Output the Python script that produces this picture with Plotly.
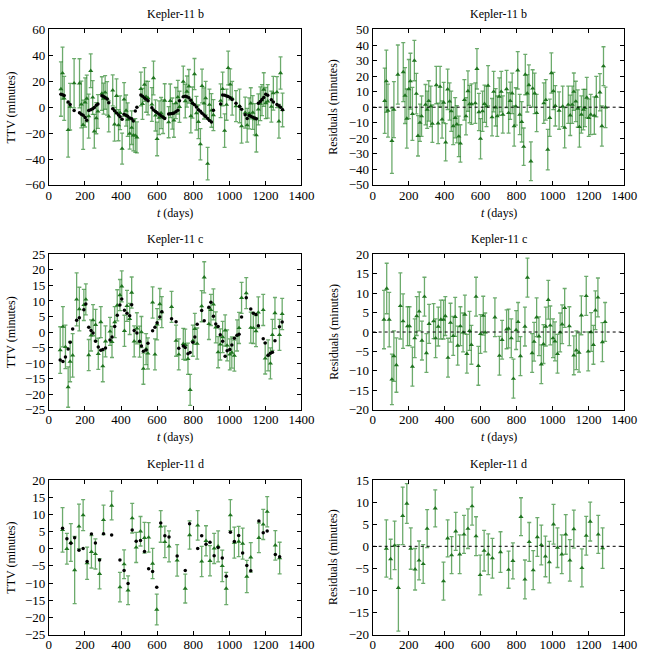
import plotly.graph_objects as go

# ---------------- Kepler-11 b ----------------
t_b = [67, 76, 85, 107, 118, 140, 170, 180, 190, 201,
       210, 221, 232, 243, 252, 263, 272, 294, 303, 312,
       323, 332, 354, 364, 375, 386, 395, 406, 417, 428,
       437, 448, 459, 468, 479, 488, 510, 519, 530, 539,
       550, 571, 580, 591, 600, 611, 622, 633, 642, 664,
       673, 684, 693, 704, 715, 724, 745, 756, 765, 776,
       787, 796, 807, 818, 829, 840, 849, 860, 869, 880,
       890, 901, 912, 952, 963, 974, 985, 994, 1005, 1016,
       1037, 1057, 1068, 1088, 1099, 1110, 1119, 1130, 1141, 1150,
       1161, 1172, 1181, 1191, 1202, 1213, 1233, 1244, 1264, 1275,
       1284, 1295]
ttv_b = [14.0, 26.3, 6.8, -17.6, 0.4, 18.5, 18.4, 2.1, -13.6, 3.7,
         6.7, -6.9, 28.1, 7.5, -18.6, -8.5, -3.3, 10.5, 6.6, 11.4,
         6.8, -7.1, 13.0, -13.2, 8.8, -13.9, -4.3, -32.0, 6.0, -2.6,
         -9.6, -20.4, -15.8, -21.7, -21.8, -23.3, 14.1, 2.6, 17.5, 8.1,
         7.0, 2.1, 22.5, -6.4, -24.5, -8.1, -4.5, -7.3, 5.1, -11.6,
         4.9, -4.9, -10.2, 3.2, 7.7, 0.3, 19.7, 4.7, 12.1, 16.1,
         -6.8, 3.6, 25.6, -4.6, -11.3, -28.6, 16.4, 2.9, 7.0, -43.6,
         1.9, -2.5, -6.1, 5.0, 14.1, -18.1, 1.9, 30.3, 17.6, 6.9,
         0.8, 1.0, -14.7, -4.2, -13.9, -4.8, 3.0, -4.1, -9.3, -21.6,
         -1.7, 2.7, 5.5, 13.6, 3.2, 4.5, 0.4, 10.8, 11.6, -10.9,
         26.4, -2.1]
err_b = [21, 20, 17, 21, 18, 19, 19, 18, 19, 19,
         18, 17, 13, 13, 13, 12, 13, 13, 12, 13,
         13, 12, 12, 13, 13, 12, 13, 12, 13, 12,
         13, 12, 13, 12, 13, 12, 13, 12, 13, 12,
         13, 13, 13, 12, 13, 13, 12, 13, 13, 12,
         13, 12, 13, 12, 13, 12, 12, 13, 12, 13,
         13, 12, 12, 13, 13, 12, 13, 12, 13, 12.5,
         12, 13, 12, 13, 13, 13, 12, 13, 12, 13,
         12, 13, 13, 12, 13, 12, 12, 13, 12, 13,
         12, 13, 12, 13, 12, 13, 12, 13, 12, 13,
         12.5, 13]
model_b = [9.9, 9.6, 9.0, 4.0, 2.0, -2.5, -4.2, -5.4, -6.3, -8.0,
           -10.0, -2.6, -1.9, -1.2, -0.2, 1.5, 2.5, 8.9, 8.2, 7.4,
           6.3, 3.5, -1.2, -2.8, -4.4, -6.0, -7.3, -9.4, -5.5, -6.3,
           -7.0, -8.3, -9.0, -10.7, -3.0, 0.0, 9.4, 8.4, 7.1, 6.1,
           5.0, -0.5, -2.2, -3.3, -4.2, -5.5, -6.7, -7.8, -8.7, -5.2,
           -5.1, -4.8, -4.4, -3.6, -2.3, 5.0, 8.0, 8.4, 8.0, 7.2,
           5.3, 3.1, 1.9, 0.1, -1.9, -3.2, -4.6, -6.0, -7.2, -8.8,
           -10.2, -11.4, -2.4, 2.4, 9.4, 9.2, 8.7, 8.3, 7.2, 6.0,
           3.0, 0.5, -1.5, -5.8, -8.7, -6.4, -7.0, -7.8, -8.4, -8.9,
           3.0, 4.3, 6.0, 7.4, 10.0, 9.2, 5.8, 4.0, 2.0, 1.2,
           0.0, -2.0]
res_b = [4.1, 16.7, -2.2, -21.6, -1.6, 21.0, 22.6, 7.5, -7.3, 11.7,
         16.7, -4.3, 30.0, 8.7, -18.4, -10.0, -5.8, 1.6, -1.6, 4.0,
         0.5, -10.6, 14.2, -10.4, 13.2, -7.9, 3.0, -22.6, 11.5, 3.7,
         -2.6, -12.1, -6.8, -11.0, -18.8, -23.3, 4.7, -5.8, 10.4, 2.0,
         2.0, 2.6, 24.7, -3.1, -20.3, -2.6, 2.2, 0.5, 13.8, -6.4,
         10.0, -0.1, -5.8, 6.8, 10.0, -4.7, 11.7, -3.7, 4.1, 8.9,
         -12.1, 0.5, 23.7, -4.7, -9.4, -25.4, 21.0, 8.9, 14.2, -34.8,
         12.1, 8.9, -3.7, 2.6, 4.7, -27.3, -6.8, 22.0, 10.4, 0.9,
         -2.2, 0.5, -13.2, 1.6, -5.2, 1.6, 10.0, 3.7, -0.9, -12.7,
         -4.7, -1.6, -0.5, 6.2, -6.8, -4.7, -5.4, 6.8, 9.6, -12.1,
         26.4, -0.1]

# ---------------- Kepler-11 c ----------------
t_c = [63, 78, 92, 107, 118, 132, 154, 169, 194, 205,
       221, 234, 245, 259, 274, 288, 299, 314, 339, 350,
       365, 379, 394, 404, 419, 433, 448, 459, 473, 488,
       503, 513, 524, 539, 549, 575, 588, 600, 615, 626,
       680, 705, 720, 745, 756, 771, 783, 798, 809, 822,
       847, 861, 887, 898, 912, 925, 938, 950, 963, 977,
       988, 1003, 1014, 1028, 1043, 1054, 1068, 1094, 1119, 1133,
       1148, 1161, 1188, 1199, 1215, 1228, 1239, 1253, 1278, 1293]
ttv_c = [-5.8, 1.7, -4.8, -17.7, -9.5, -7.5, 10.5, 7.4, 8.7, 10.5,
         -7.4, -1.1, 3.8, 2.3, -7.0, 3.2, -11.0, -3.0, 0.2, -3.2,
         3.2, 8.6, 11.9, 14.7, 0.4, 8.4, 4.2, 12.7, -3.0, 1.2,
         -3.1, 0.0, -11.8, -5.5, -6.9, 9.5, -7.2, 2.5, 9.0, 6.4,
         8.1, -2.8, -7.2, -3.8, -4.1, -8.6, -18.6, -2.8, 1.0, -3.7,
         8.3, 17.6, 2.6, 7.1, 8.9, 1.5, -6.5, -4.0, -1.6, 0.5,
         -4.3, -7.2, -6.6, -7.6, -1.1, 1.3, 11.0, 12.5, 1.4, 1.3,
         0.3, 6.3, 7.1, -8.5, -7.5, -10.1, -0.9, 6.1, -0.9, 5.8]
err_c = [7.5, 6.5, 7, 6.5, 6.5, 7, 8.5, 7, 5, 5,
         5, 5, 5, 5, 5, 5, 5, 5, 4.5, 5,
         5, 5, 5, 5, 5, 5, 5, 5, 5, 5,
         5, 5, 5, 5, 5, 5, 5, 5, 5, 5,
         5, 5, 5, 5, 5, 5, 5, 5, 5, 5,
         5, 5, 5, 5, 5, 5, 5, 5, 5, 5,
         5, 5, 5, 5, 5, 5, 5, 5, 5, 5,
         5, 5, 5, 5, 5, 5, 5, 5, 5, 5]
model_c = [-9.0, -9.5, -8.0, -5.5, -3.3, 1.0, 3.8, 4.6, 7.2, 9.0,
           1.5, 0.5, -0.3, -3.0, -4.8, -5.9, -5.6, -5.1, -2.6, -1.6,
           1.8, 5.4, 8.7, 10.6, 7.0, 6.0, 5.2, 8.8, 0.5, -0.3,
           -3.0, -4.5, -6.2, -5.8, -3.6, 0.4, 1.5, 3.0, 4.8, 6.5,
           4.3, 3.3, -5.2, -4.5, -5.0, -7.0, -6.6, -3.3, -1.6, 2.5,
           6.9, 3.6, 8.0, 9.6, 5.1, 2.6, 1.8, -0.9, -3.0, -7.8,
           -6.0, -5.6, -4.2, -2.0, -1.0, -0.7, 4.8, 11.0, 7.4, 6.0,
           5.6, 2.0, -2.2, -3.5, -7.5, -6.8, -6.5, -2.8, 1.7, 3.2]
res_c = [3.2, 11.2, 3.2, -12.2, -6.2, -8.5, 6.7, 2.8, 1.5, 1.5,
         -8.9, -1.6, 4.1, 5.3, -2.2, 9.1, -5.4, 2.1, 2.8, -1.6,
         1.4, 3.2, 3.2, 4.1, -6.6, 2.4, -1.0, 3.9, -3.5, 1.5,
         -0.1, 4.5, -5.6, 0.3, -3.3, 9.1, -8.7, -0.5, 4.2, -0.1,
         3.8, -6.1, -2.0, 0.7, 0.9, -1.6, -12.0, 0.5, 2.6, -6.2,
         1.4, 14.0, -5.4, -2.5, 3.8, -1.1, -8.3, -3.1, 1.4, 8.3,
         1.7, -1.6, -2.4, -5.6, -0.1, 2.0, 6.2, 1.5, -6.0, -4.7,
         -5.3, 4.3, 9.3, -5.0, 0.0, -3.3, 5.6, 8.9, -2.6, 2.6]

# ---------------- Kepler-11 d ----------------
t_d = [76, 100, 122, 143, 167, 190, 212, 236, 258, 281,
       303, 348, 394, 417, 439, 462, 484, 508, 530, 553,
       575, 598, 620, 643, 666, 711, 756, 780, 825, 847,
       871, 893, 916, 938, 961, 983, 1006, 1028, 1052, 1074,
       1097, 1119, 1164, 1188, 1210, 1255, 1279]
ttv_d = [5.5, 0.0, 1.8, -6.2, 6.5, 9.8, -4.2, -0.9, -1.5, -7.3,
         8.4, 12.6, -11.2, -4.5, -12.1, 8.9, 0.4, 5.1, 3.2, 3.3,
         -4.3, -17.7, 6.5, 2.0, 0.7, -3.4, -11.6, 4.0, 6.8, -3.7,
         2.3, -3.5, 0.1, 0.7, -5.0, -11.6, 9.8, 1.8, 2.1, 1.5,
         -8.1, -2.5, 3.2, 7.1, 10.8, 1.0, -2.7]
err_d = [6.5, 4.5, 5.5, 9.8, 6.5, 4.5, 4.7, 4.7, 4.4, 4.4,
         4.3, 4.2, 4.3, 4.2, 4.2, 4.3, 4.4, 4.3, 4.5, 4.3,
         4.4, 4.5, 4.6, 4.6, 4.5, 4.6, 4.2, 4.1, 4.3, 4.4,
         4.4, 4.4, 4.4, 4.5, 4.6, 4.7, 4.5, 4.5, 4.4, 4.5,
         4.7, 4.3, 4.3, 4.4, 4.4, 4.3, 4.6]
model_d = [6.0, 2.9, 1.6, 3.2, -0.4, 0.1, -3.7, 4.3, 1.7, -3.3,
           4.4, 4.0, -3.3, -6.3, -10.1, 5.5, 2.2, 2.4, -0.8, -5.8,
           -6.6, -11.2, 7.5, 3.8, 3.4, -2.1, -6.3, 7.3, 0.1, 3.8,
           1.3, 1.9, -2.0, 0.4, -2.7, -8.0, 4.8, 2.1, 3.9, -1.2,
           -4.9, -6.4, 8.1, 4.7, 5.2, -1.7, -2.3]
res_d = [-0.5, -2.9, 0.2, -9.4, 6.9, 9.7, -0.5, -5.2, -3.2, -4.0,
         4.0, 8.6, -7.9, 1.8, -2.0, 3.4, -1.8, 2.7, 4.0, 9.1,
         2.3, -6.5, -1.0, -1.8, -2.7, -1.3, -5.3, -3.3, 6.7, -7.5,
         1.0, -5.4, 2.1, 0.3, -2.3, -3.6, 5.0, -0.3, -1.8, 2.7,
         -3.2, 3.9, -4.9, 2.4, 5.6, 2.7, -0.4]

titles = ["Kepler-11 b", "Kepler-11 c", "Kepler-11 d"]
ttv_ranges = [(-60, 60, 20), (-25, 25, 5), (-25, 20, 5)]
res_ranges = [(-50, 50, 10), (-20, 20, 5), (-20, 15, 5)]
x_range = (0, 1400, 200)

W, H = 651, 667
FONT = "Liberation Serif"
GREEN = "#1f741f"
BAR = "rgba(45,135,45,0.7)"

# layout geometry in pixels
left_x = (47, 306)
right_x = (379, 637)
rows_y = [(23, 182), (253, 412), (484, 642)]
title_y = [7, 237, 468]
xtitle_y = [211, 440, None]

fig = go.Figure()
data = [
    (t_b, ttv_b, err_b, model_b, res_b),
    (t_c, ttv_c, err_c, model_c, res_c),
    (t_d, ttv_d, err_d, model_d, res_d),
]

def px_x(v):
    return v / W

def px_y(v):
    return 1 - v / H

annotations = []
shapes = []
axis_style = dict(
    showline=True, linecolor="black", linewidth=1, mirror="allticks",
    ticks="inside", ticklen=4, tickcolor="black", tickwidth=1,
    showgrid=False, zeroline=False,
    tickfont=dict(family=FONT, size=13, color="black"),
)

for i, (t, ttv, err, model, res) in enumerate(data):
    n_left = 2 * i + 1
    n_right = 2 * i + 2
    for n, xdom in ((n_left, left_x), (n_right, right_x)):
        xa = "xaxis" if n == 1 else f"xaxis{n}"
        ya = "yaxis" if n == 1 else f"yaxis{n}"
        yr = ttv_ranges[i] if n == n_left else res_ranges[i]
        fig.layout[xa] = dict(
            domain=[px_x(xdom[0]), px_x(xdom[1])],
            range=[x_range[0], x_range[1]], dtick=x_range[2], tick0=0,
            anchor="y" if n == 1 else f"y{n}", ticklabelstandoff=-2, **axis_style)
        fig.layout[ya] = dict(
            domain=[px_y(rows_y[i][1]), px_y(rows_y[i][0])],
            range=[yr[0], yr[1]], dtick=yr[2], tick0=0,
            anchor="x" if n == 1 else f"x{n}", **axis_style)
        xs = "x" if n == 1 else f"x{n}"
        ys = "y" if n == 1 else f"y{n}"
        cx = (xdom[0] + xdom[1]) / 2
        annotations.append(dict(
            text=titles[i], x=px_x(cx), y=px_y(title_y[i]), xref="paper", yref="paper",
            showarrow=False, xanchor="center", yanchor="middle",
            font=dict(family=FONT, size=12, color="black")))
        if xtitle_y[i] is not None:
            annotations.append(dict(
                text="<i>t</i> (days)", x=px_x(cx), y=px_y(xtitle_y[i]), xref="paper", yref="paper",
                showarrow=False, xanchor="center", yanchor="middle",
                font=dict(family=FONT, size=12, color="black")))
        cy = (rows_y[i][0] + rows_y[i][1]) / 2
        ytxt = "TTV (minutes)" if n == n_left else "Residuals (minutes)"
        ypos = 8.5 if n == n_left else 339
        annotations.append(dict(
            text=ytxt, x=px_x(ypos), y=px_y(cy), xref="paper", yref="paper",
            showarrow=False, xanchor="center", yanchor="middle", textangle=-90,
            font=dict(family=FONT, size=12, color="black")))

        yvals = ttv if n == n_left else res
        fig.add_trace(go.Scatter(
            x=t, y=yvals, mode="markers", xaxis=xs, yaxis=ys,
            marker=dict(symbol="triangle-up", size=4.5, color=GREEN),
            error_y=dict(type="data", array=err, visible=True, color=BAR,
                         thickness=1.3, width=2),
            showlegend=False, hoverinfo="skip"))
        if n == n_left:
            fig.add_trace(go.Scatter(
                x=t, y=model, mode="markers", xaxis=xs, yaxis=ys,
                marker=dict(symbol="circle", size=3.5, color="black"),
                showlegend=False, hoverinfo="skip"))
        else:
            shapes.append(dict(
                type="line", xref=f"{xs} domain", yref=ys, x0=0, x1=1, y0=0, y1=0,
                line=dict(color="black", width=1, dash="dot")))

fig.update_layout(
    width=W, height=H,
    margin=dict(l=0, r=0, t=0, b=0),
    paper_bgcolor="white", plot_bgcolor="white",
    annotations=annotations, shapes=shapes,
    showlegend=False,
    font=dict(family=FONT, size=12, color="black"),
)

fig.write_html("out.html")
